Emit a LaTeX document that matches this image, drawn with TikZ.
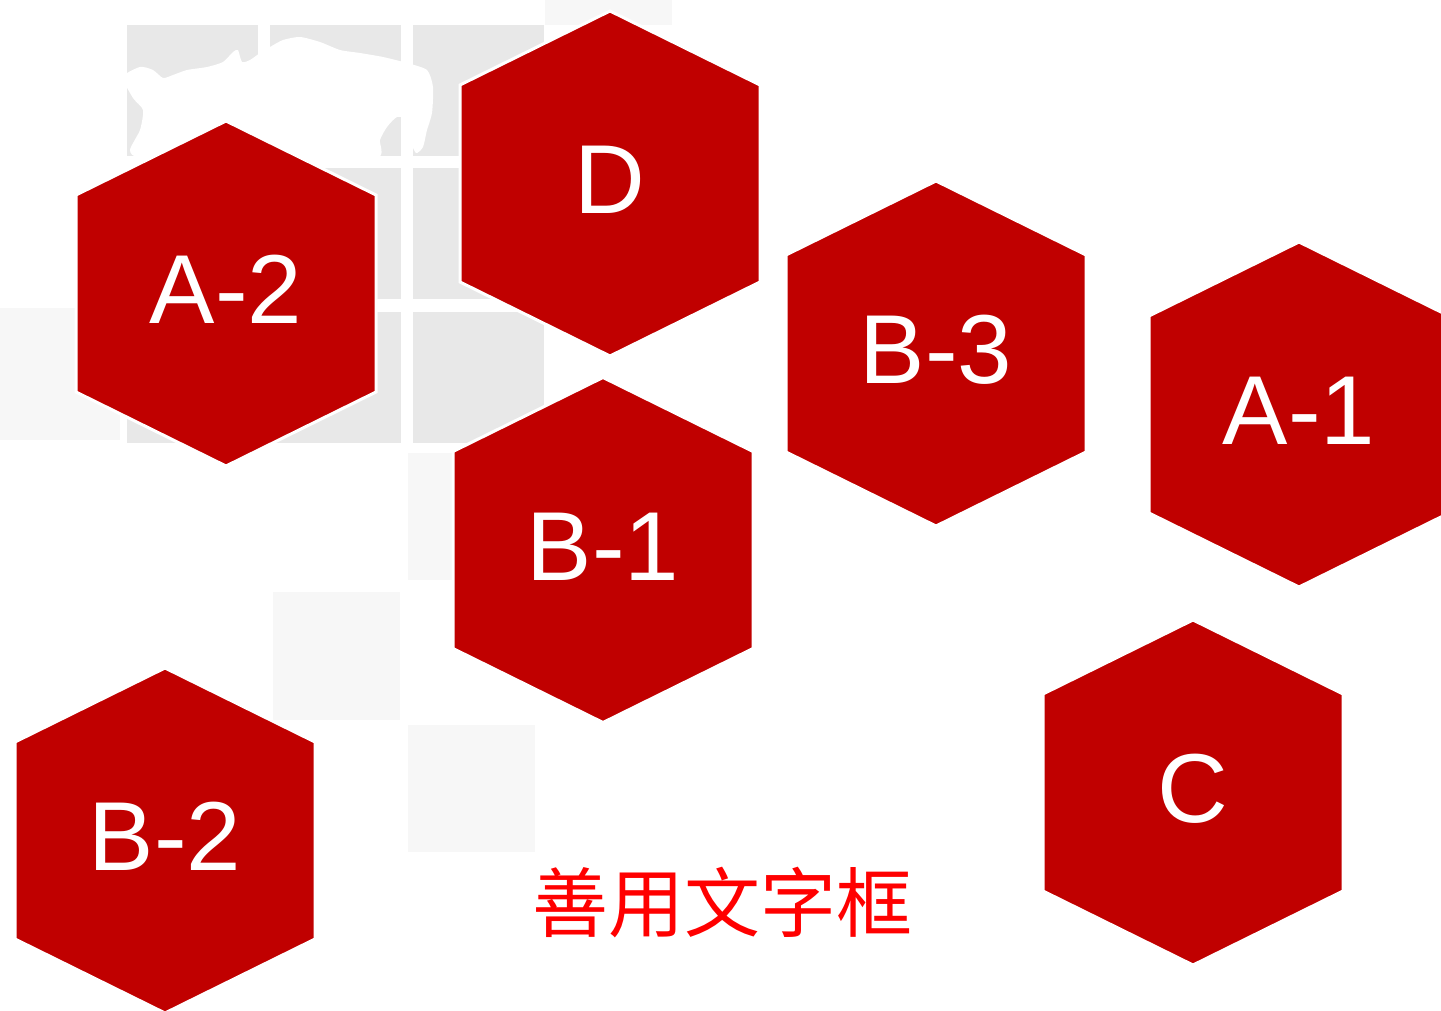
\documentclass[tikz,border=0pt]{standalone}
\usepackage{fontspec}
\setmainfont{Liberation Sans}
\newfontfamily\cjk{Noto Sans CJK SC}
\definecolor{hexred}{RGB}{192,0,0}
\definecolor{cellgray}{RGB}{232,232,232}
\definecolor{faintgray}{RGB}{247,247,247}
\tikzset{
  hexbox/.style={fill=hexred, draw=white, line width=3pt, line join=miter},
  hexlabel/.style={text=white, anchor=base, inner sep=0pt, font=\fontsize{98}{100}\selectfont},
  cell/.style={fill=cellgray},
  faintcell/.style={fill=faintgray},
  titletext/.style={text=red, inner sep=0pt, font=\cjk\fontsize{76}{80}\selectfont}
}
\newcommand{\hexagon}[4]{%
  \filldraw[hexbox] ({#2},{#3-172.5}) -- ({#2+150},{#3-98.5}) -- ({#2+150},{#3+98.5})
     -- ({#2},{#3+172.5}) -- ({#2-150},{#3+98.5}) -- ({#2-150},{#3-98.5}) -- cycle;
  \node[hexlabel] (#1) at ({#2},{#3+30}) {#4};
}
\begin{document}
\begin{tikzpicture}[x=1pt,y=-1pt]
\useasboundingbox (0,0) rectangle (1441,1011);
\clip (0,0) rectangle (1441,1011);
\fill[white] (0,0) rectangle (1441,1011);
% faint background squares
\fill[faintcell] (0,308) rectangle (120,440);
\fill[faintcell] (408,453) rectangle (535,580);
\fill[faintcell] (273,592) rectangle (400,720);
\fill[faintcell] (408,725) rectangle (535,852);
\fill[faintcell] (545,0) rectangle (672,25);
% gray grid block
\foreach \cx in {127,270,413}{
  \foreach \cy in {25,168,312}{
    \fill[cell] (\cx,\cy) rectangle ++(131,131);
  }
}
% white world map silhouette
\fill[white] plot[smooth cycle, tension=0.4] coordinates {
  (123,77) (140,67) (153,70) (163,78) (173,75) (187,70) (207,67) (223,62)
  (233,52) (238,50) (242,62) (250,60) (260,53) (270,47) (283,40) (300,37)
  (320,42) (340,50) (360,53) (383,57) (407,63) (427,70) (433,87) (432,113)
  (427,130) (423,147) (416,153) (410,140) (407,120) (397,117) (387,127)
  (380,140) (377,158) (300,160) (200,160) (140,158) (130,150) (140,130)
  (143,110) (133,98)
};
% hexagons
\hexagon{hD}{610}{183.5}{D}
\hexagon{hA2}{226}{293.5}{A-2}
\hexagon{hB3}{936}{353.5}{B-3}
\hexagon{hA1}{1299}{414.5}{A-1}
\hexagon{hB1}{603}{550}{B-1}
\hexagon{hB2}{165}{840.5}{B-2}
\hexagon{hC}{1193}{792.5}{C}
% title
\node[titletext] (title) at (722,903) {善用文字框};
\end{tikzpicture}
\end{document}
